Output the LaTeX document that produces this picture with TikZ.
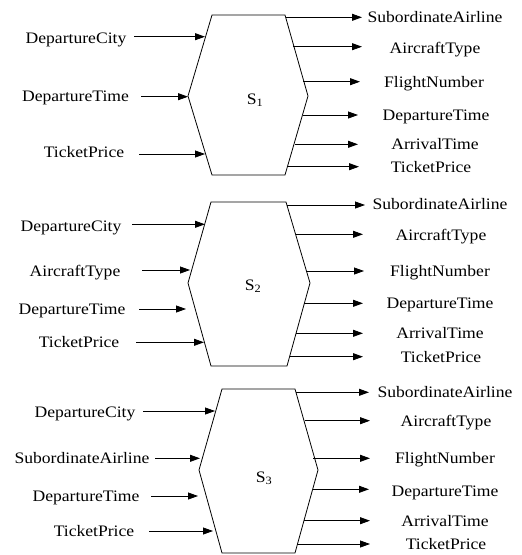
\documentclass[tikz,border=0pt]{standalone}
\usepackage{fontspec}
\setmainfont{Liberation Serif}[FakeStretch=1.1]
\usetikzlibrary{arrows.meta}
\tikzset{
  lbl/.style={font=\fontsize{16}{18}\selectfont, inner sep=0pt, anchor=base},
  arr/.style={draw=black, line width=0.8pt, -{Triangle[length=10pt,width=7pt]}},
  hexa/.style={draw=black, line width=0.8pt},
}
% name, text, text x, text cap-centre y, arrow y, arrow x1, arrow x2
\newcommand\myio[7]{%
  \node[lbl] (#1) at (#3,#4+5.3) {#2};
  \coordinate (#1s) at (#6,#5);
  \coordinate (#1e) at (#7,#5);
  \draw[arr] (#1s) -- (#1e);}
\begin{document}
\begin{tikzpicture}[x=1pt,y=-1pt]
\useasboundingbox (0,0) rectangle (522,555);
% ---------- S1 ----------
\draw[hexa] (212,15) coordinate (h1a) -- (285,15) coordinate (h1b) -- (308,96) coordinate (h1c) -- (285,175) coordinate (h1d) -- (212,175) coordinate (h1e) -- (188,96) coordinate (h1f) -- cycle;
\node[lbl] (s1) at (255,104) {S\textsubscript{1}};
\myio{a1}{DepartureCity}{76}{38.3}{36.7}{134}{205}
\myio{a2}{DepartureTime}{75.5}{95.7}{96.7}{141}{188}
\myio{a3}{TicketPrice}{84}{151.7}{154}{139}{205}
\myio{b1}{SubordinateAirline}{435}{16.7}{17.3}{286}{362}
\myio{b2}{AircraftType}{435}{48.3}{46.7}{293}{362}
\myio{b3}{FlightNumber}{434}{81.7}{81.7}{303}{360}
\myio{b4}{DepartureTime}{436}{115}{115}{303}{358}
\myio{b5}{ArrivalTime}{435}{144}{144.3}{295}{358}
\myio{b6}{TicketPrice}{431}{167.3}{166.7}{287}{359}
% ---------- S2 ----------
\draw[hexa] (211,202) coordinate (h2a) -- (286,202) coordinate (h2b) -- (310,283) coordinate (h2c) -- (287,366) coordinate (h2d) -- (211,366) coordinate (h2e) -- (188,283) coordinate (h2f) -- cycle;
\node[lbl] (s2) at (253,290) {S\textsubscript{2}};
\myio{c1}{DepartureCity}{71}{225.7}{224.3}{132}{205}
\myio{c2}{AircraftType}{75}{271}{270}{142}{190}
\myio{c3}{DepartureTime}{72}{309}{309}{139}{186}
\myio{c4}{TicketPrice}{79}{341.7}{342.3}{136}{204}
\myio{d1}{SubordinateAirline}{440}{204}{205}{287}{365}
\myio{d2}{AircraftType}{441}{235}{234.3}{296}{363}
\myio{d3}{FlightNumber}{440}{271}{271}{306}{364}
\myio{d4}{DepartureTime}{440}{303.3}{303.3}{304}{363}
\myio{d5}{ArrivalTime}{440}{332.7}{333.3}{296}{363}
\myio{d6}{TicketPrice}{441}{356.7}{356.7}{290}{363}
% ---------- S3 ----------
\draw[hexa] (222,389) coordinate (h3a) -- (295,389) coordinate (h3b) -- (318,470) coordinate (h3c) -- (295,553) coordinate (h3d) -- (222,553) coordinate (h3e) -- (199,470) coordinate (h3f) -- cycle;
\node[lbl] (s3) at (264,482) {S\textsubscript{3}};
\myio{e1}{DepartureCity}{85}{412.3}{411}{143}{215}
\myio{e2}{SubordinateAirline}{82}{458.3}{458.3}{155}{200}
\myio{e3}{DepartureTime}{86}{496}{496}{151}{198}
\myio{e4}{TicketPrice}{94}{531}{531}{149}{213}
\myio{f1}{SubordinateAirline}{445}{391.7}{392.3}{296}{369}
\myio{f2}{AircraftType}{446}{421}{420.7}{305}{370}
\myio{f3}{FlightNumber}{445}{458.3}{458.3}{313}{370}
\myio{f4}{DepartureTime}{445}{490.7}{489.3}{313}{369}
\myio{f5}{ArrivalTime}{445}{520.7}{520.7}{304}{370}
\myio{f6}{TicketPrice}{446}{544}{544}{297}{370}
\end{tikzpicture}
\end{document}
